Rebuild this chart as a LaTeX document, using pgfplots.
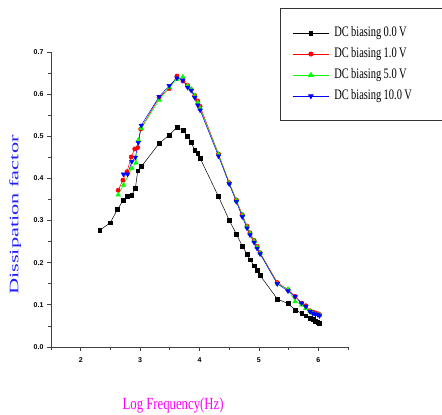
\documentclass[border=0pt]{standalone}
\usepackage{fontspec}
\setmainfont{Liberation Serif}
\setsansfont{Liberation Sans}
\usepackage{pgfplots}
\pgfplotsset{compat=1.18}

\definecolor{lblue}{RGB}{30,30,255}
\definecolor{lmag}{RGB}{255,0,255}

\newcommand{\legtxt}[1]{\hspace*{3pt}\scalebox{0.72}[1]{\fontsize{14.5}{15}\selectfont #1}}

\begin{document}
\begin{tikzpicture}
\useasboundingbox (0,0) rectangle (442pt,415pt);
\begin{axis}[
    at={(51pt,68pt)}, anchor=south west,
    scale only axis, width=297pt, height=295pt,
    xmin=1.5, xmax=6.5, ymin=0, ymax=0.7,
    axis x line*=bottom, axis y line*=left,
    axis line style={line width=0.9pt, black!75},
    xtick={2,3,4,5,6}, minor xtick={1.5,2.5,3.5,4.5,5.5,6.5},
    ytick={0,0.1,...,0.7}, minor ytick={0.05,0.15,...,0.65},
    yticklabel style={/pgf/number format/fixed, /pgf/number format/fixed zerofill,
        /pgf/number format/precision=1},
    tick align=outside,
    major tick length=4pt, minor tick length=3pt,
    every tick/.style={black!75, line width=0.8pt},
    /pgf/number format/assume math mode=true,
    tick label style={font=\sffamily\bfseries\fontsize{7}{8}\selectfont},
    xticklabel style={yshift=-3pt},
    xlabel={\scalebox{0.75}[1]{\fontsize{17}{18}\selectfont Log Frequency(Hz)}},
    xlabel style={text=lmag, at={(axis description cs:0.411,-0.197)}, anchor=center},
    ylabel={\scalebox{1.72}[1]{\fontsize{13}{14}\selectfont Dissipation factor}},
    ylabel style={text=lblue, at={(axis description cs:-0.121,0.447)}, anchor=center, rotate=0},
    legend style={at={(axis description cs:0.771,1.149)}, anchor=north west,
        draw=black!80, line width=1pt, inner xsep=12pt, inner ysep=18pt,
        row sep=8pt,
        nodes={text width=125pt, inner ysep=0pt, text height=10pt, text depth=3pt}},
    legend cell align=left,
    legend image code/.code={\draw[#1, line width=0.8pt, mark repeat=2, mark phase=2]
        plot coordinates {(0pt,0pt) (18pt,0pt) (36pt,0pt)};},
    every axis plot/.append style={line width=0.5pt},
]
\addplot[black, mark=square*, mark size=1.9pt] coordinates {
(2.32,0.277) (2.50,0.295) (2.62,0.327) (2.72,0.349) (2.79,0.358) (2.86,0.361)
(2.92,0.376) (2.96,0.418) (3.02,0.428) (3.32,0.483) (3.49,0.503) (3.62,0.521)
(3.72,0.515) (3.80,0.500) (3.86,0.485) (3.92,0.467) (3.97,0.459) (4.01,0.448)
(4.32,0.357) (4.50,0.301) (4.62,0.268) (4.72,0.240) (4.80,0.220) (4.85,0.207)
(4.92,0.193) (4.97,0.182) (5.02,0.170) (5.31,0.114) (5.49,0.103) (5.61,0.088)
(5.72,0.080) (5.79,0.074) (5.86,0.069) (5.91,0.065) (5.95,0.062) (5.99,0.059)
(6.02,0.057)
};
\addlegendentry{\legtxt{DC biasing 0.0 V}}
\addplot[red, mark=*, mark size=2.1pt] coordinates {
(2.63,0.372) (2.71,0.396) (2.78,0.416) (2.85,0.451) (2.91,0.470) (2.96,0.473)
(3.01,0.517) (3.32,0.592) (3.49,0.613) (3.62,0.643) (3.72,0.631) (3.80,0.621)
(3.86,0.611) (3.92,0.597) (3.97,0.584) (4.01,0.571) (4.32,0.458) (4.50,0.390)
(4.62,0.349) (4.72,0.314) (4.80,0.287) (4.85,0.271) (4.92,0.253) (4.97,0.239)
(5.02,0.224) (5.31,0.153) (5.49,0.136) (5.61,0.120) (5.72,0.104) (5.79,0.098)
(5.86,0.086) (5.91,0.083) (5.95,0.081) (5.99,0.079) (6.02,0.077)
};
\addlegendentry{\legtxt{DC biasing 1.0 V}}
\addplot[green, mark=triangle*, mark size=2.6pt] coordinates {
(2.63,0.361) (2.72,0.384) (2.86,0.424) (2.93,0.437) (2.97,0.491) (3.02,0.519)
(3.32,0.586) (3.49,0.616) (3.62,0.635) (3.72,0.641) (3.80,0.620) (3.86,0.612)
(3.92,0.596) (3.97,0.580) (4.01,0.566) (4.32,0.457) (4.50,0.389) (4.62,0.347)
(4.72,0.312) (4.80,0.285) (4.85,0.269) (4.92,0.251) (4.97,0.237) (5.02,0.223)
(5.31,0.150) (5.49,0.137) (5.61,0.108) (5.72,0.100) (5.79,0.092) (5.86,0.085)
(5.91,0.080) (5.95,0.078) (5.99,0.077) (6.02,0.076)
};
\addlegendentry{\legtxt{DC biasing 5.0 V}}
\addplot[blue, mark=triangle*, mark size=2.6pt, mark options={rotate=180}] coordinates {
(2.72,0.410) (2.79,0.410) (2.86,0.440) (2.92,0.450) (2.97,0.485) (3.02,0.526)
(3.32,0.594) (3.49,0.620) (3.62,0.638) (3.72,0.633) (3.80,0.616) (3.86,0.609)
(3.92,0.592) (3.97,0.574) (4.01,0.562) (4.32,0.453) (4.50,0.387) (4.62,0.345)
(4.72,0.309) (4.80,0.282) (4.85,0.266) (4.92,0.248) (4.97,0.234) (5.02,0.221)
(5.31,0.150) (5.49,0.133) (5.61,0.120) (5.72,0.104) (5.79,0.096) (5.86,0.084)
(5.91,0.080) (5.95,0.078) (5.99,0.077) (6.02,0.074)
};
\addlegendentry{\legtxt{DC biasing 10.0 V}\rule[-10pt]{0pt}{1pt}}
\end{axis}
\end{tikzpicture}
\end{document}
